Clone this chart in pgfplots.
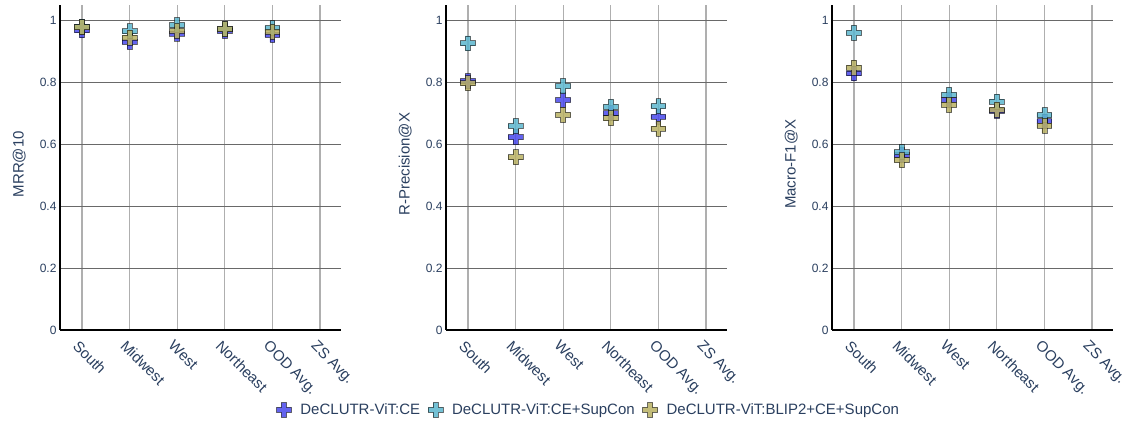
\documentclass[border=0pt]{standalone}
\usepackage{pgfplots}
\pgfplotsset{compat=1.18}
\usepackage{pgfplotstable}
\usepackage{fontspec}
\setmainfont{Liberation Sans}

\definecolor{labeltext}{HTML}{2A3F5F}
\definecolor{ceblue}{RGB}{72,72,236}
\definecolor{supcyan}{RGB}{92,182,206}
\definecolor{blipolive}{RGB}{184,176,98}
\definecolor{xgridgray}{RGB}{175,175,175}
\definecolor{ygridgray}{RGB}{105,105,105}

% thick "plus" marker with outline
\pgfdeclareplotmark{fatplus}{%
  \pgfpathmoveto{\pgfpoint{1.2\pgfplotmarksize}{0.4\pgfplotmarksize}}%
  \pgfpathlineto{\pgfpoint{0.4\pgfplotmarksize}{0.4\pgfplotmarksize}}%
  \pgfpathlineto{\pgfpoint{0.4\pgfplotmarksize}{1.2\pgfplotmarksize}}%
  \pgfpathlineto{\pgfpoint{-0.4\pgfplotmarksize}{1.2\pgfplotmarksize}}%
  \pgfpathlineto{\pgfpoint{-0.4\pgfplotmarksize}{0.4\pgfplotmarksize}}%
  \pgfpathlineto{\pgfpoint{-1.2\pgfplotmarksize}{0.4\pgfplotmarksize}}%
  \pgfpathlineto{\pgfpoint{-1.2\pgfplotmarksize}{-0.4\pgfplotmarksize}}%
  \pgfpathlineto{\pgfpoint{-0.4\pgfplotmarksize}{-0.4\pgfplotmarksize}}%
  \pgfpathlineto{\pgfpoint{-0.4\pgfplotmarksize}{-1.2\pgfplotmarksize}}%
  \pgfpathlineto{\pgfpoint{0.4\pgfplotmarksize}{-1.2\pgfplotmarksize}}%
  \pgfpathlineto{\pgfpoint{0.4\pgfplotmarksize}{-0.4\pgfplotmarksize}}%
  \pgfpathlineto{\pgfpoint{1.2\pgfplotmarksize}{-0.4\pgfplotmarksize}}%
  \pgfpathclose
  \pgfusepathqfillstroke}

% x: 0 South, 1 Midwest, 2 West, 3 Northeast, 4 OOD Avg. (ZS Avg. has no values)
\pgfplotstableread{
x ce sup blip
0 0.968 0.980 0.978
1 0.931 0.965 0.945
2 0.958 0.985 0.966
3 0.966 0.972 0.972
4 0.953 0.975 0.963
}\mrrdata

\pgfplotstableread{
x ce sup blip
0 0.804 0.926 0.797
1 0.623 0.659 0.558
2 0.743 0.788 0.695
3 0.700 0.721 0.684
4 0.689 0.723 0.651
}\rprecdata

\pgfplotstableread{
x ce sup blip
0 0.829 0.960 0.848
1 0.565 0.574 0.549
2 0.743 0.760 0.727
3 0.708 0.738 0.712
4 0.674 0.694 0.660
}\macrodata

\pgfplotsset{
  panel/.style={
    scale only axis,
    width=281pt, height=325pt,
    xmin=-0.46, xmax=5.44,
    ymin=0, ymax=1.05,
    axis x line*=bottom,
    axis y line*=left,
    axis line style={line width=1.3pt, black, -},
    grid=major,
    x grid style={xgridgray, line width=1.3pt},
    y grid style={ygridgray, line width=0.8pt},
    major tick length=0pt,
    ytick={0,0.2,0.4,0.6,0.8,1},
    yticklabels={0,0.2,0.4,0.6,0.8,1},
    xtick={0,1,2,3,4,5},
    xticklabels={South,Midwest,West,Northeast,OOD Avg.,ZS Avg.},
    x tick label style={rotate=-45, anchor=north west, text=labeltext,
      font=\fontsize{15}{17}\selectfont, inner sep=2pt, xshift=3pt, yshift=-6pt},
    y tick label style={text=labeltext, font=\fontsize{12}{14}\selectfont},
    ylabel style={at={(axis description cs:-0.145,0.51)}, anchor=center,
      text=labeltext, font=\fontsize{15}{17}\selectfont},
  },
  mk/.style={only marks, mark=fatplus, mark size=6.2pt,
    mark options={fill=#1, fill opacity=0.85, draw=black, draw opacity=0.55, line width=0.8pt}},
}

\begin{document}
\begin{tikzpicture}
\useasboundingbox (0,0) rectangle (1133pt,425pt);

\begin{axis}[panel, at={(60pt,95pt)}, anchor=south west, ylabel={MRR@10}]
  \addplot[mk=ceblue] table[x=x, y=ce] {\mrrdata};
  \addplot[mk=supcyan] table[x=x, y=sup] {\mrrdata};
  \addplot[mk=blipolive] table[x=x, y=blip] {\mrrdata};
\end{axis}

\begin{axis}[panel, at={(446pt,95pt)}, anchor=south west, ylabel={R-Precision@X},
  legend columns=3,
  legend style={at={(0.508,-0.246)}, anchor=center, draw=none, fill=none,
    text=labeltext, font=\fontsize{15}{17}\selectfont,
    /tikz/every odd column/.append style={column sep=7pt},
    /tikz/every even column/.append style={column sep=6pt}},
  legend cell align=left]
  \addplot[mk=ceblue] table[x=x, y=ce] {\rprecdata};
  \addplot[mk=supcyan] table[x=x, y=sup] {\rprecdata};
  \addplot[mk=blipolive] table[x=x, y=blip] {\rprecdata};
  \legend{DeCLUTR-ViT:CE, DeCLUTR-ViT:CE+SupCon, DeCLUTR-ViT:BLIP2+CE+SupCon}
\end{axis}

\begin{axis}[panel, at={(832pt,95pt)}, anchor=south west, ylabel={Macro-F1@X}]
  \addplot[mk=ceblue] table[x=x, y=ce] {\macrodata};
  \addplot[mk=supcyan] table[x=x, y=sup] {\macrodata};
  \addplot[mk=blipolive] table[x=x, y=blip] {\macrodata};
\end{axis}
\end{tikzpicture}
\end{document}
